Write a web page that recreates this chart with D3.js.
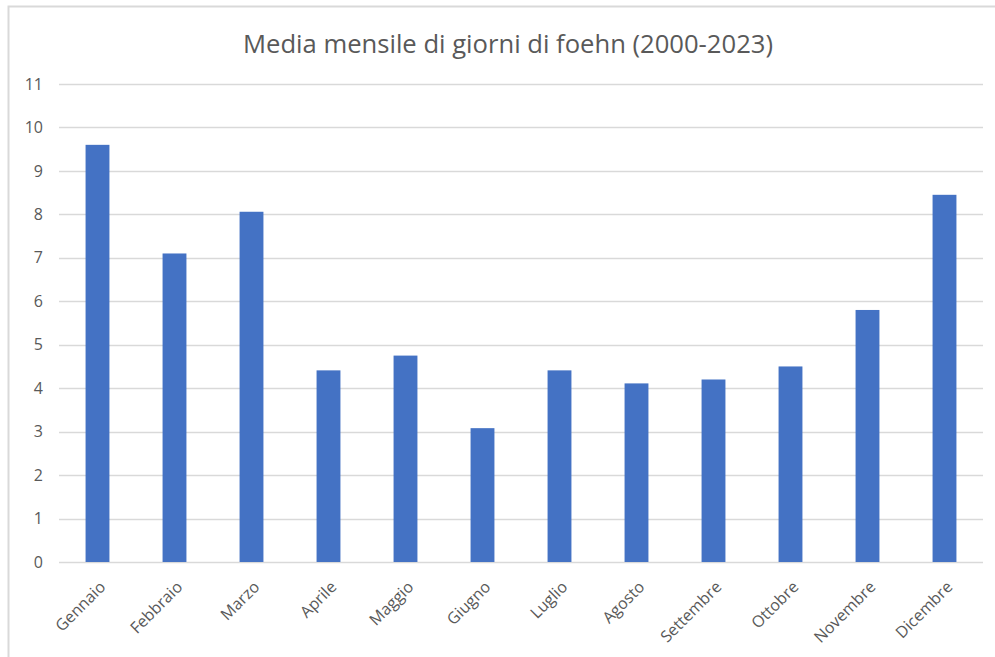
<!DOCTYPE html>
<html>
<head>
<meta charset="utf-8">
<script src="https://cdn.jsdelivr.net/npm/d3@7"></script>
<style>
  html, body { margin: 0; padding: 0; background: #ffffff; }
  svg { display: block; }
</style>
</head>
<body>
<svg id="chart" width="995" height="657"></svg>
<script>
// Monthly average of foehn days, 2000-2023
const months = ["Gennaio", "Febbraio", "Marzo", "Aprile", "Maggio", "Giugno",
                "Luglio", "Agosto", "Settembre", "Ottobre", "Novembre", "Dicembre"];
const foehnDays = [9.6, 7.1, 8.06, 4.41, 4.75, 3.08, 4.41, 4.11, 4.2, 4.5, 5.8, 8.45];
const yTicks = [0, 1, 2, 3, 4, 5, 6, 7, 8, 9, 10, 11];
const chartTitle = "Media mensile di giorni di foehn (2000-2023)";

const svg = d3.select("#chart");
const textColor = "#595959";
const gridColor = "#d9d9d9";
const labelFont = "'Open Sans', 'Noto Sans', sans-serif";

// outer frame of the chart area
svg.append("rect")
  .attr("x", 8.5).attr("y", 6.5)
  .attr("width", 1100).attr("height", 800)
  .attr("fill", "none")
  .attr("stroke", gridColor)
  .attr("stroke-width", 2);

const x = d3.scaleBand()
  .domain(months)
  .range([59, 983])
  .paddingInner(0.69)
  .paddingOuter(0.345);

const y = d3.scaleLinear()
  .domain([0, 11])
  .range([562, 84]);

// horizontal gridlines
svg.append("g")
  .selectAll("line")
  .data(yTicks)
  .join("line")
  .attr("x1", 59).attr("x2", 983)
  .attr("y1", d => Math.round(y(d)) + 0.5)
  .attr("y2", d => Math.round(y(d)) + 0.5)
  .attr("stroke", gridColor)
  .attr("stroke-width", 1.5);

// y axis labels
const yAxis = d3.axisLeft(y).tickValues(yTicks).tickSize(0).tickPadding(0);
const gy = svg.append("g").attr("transform", "translate(43,0)").call(yAxis);
gy.select(".domain").remove();
gy.selectAll("text")
  .attr("fill", textColor)
  .style("font-family", labelFont)
  .style("font-size", "16px");

// bars
svg.append("g")
  .selectAll("rect")
  .data(foehnDays)
  .join("rect")
  .attr("x", (d, i) => x(months[i]))
  .attr("y", d => y(d))
  .attr("width", x.bandwidth())
  .attr("height", d => y(0) - y(d))
  .attr("fill", "#4472C4");

// month labels, rotated
const xAxis = d3.axisBottom(x).tickSize(0).tickPadding(0);
const gx = svg.append("g").attr("transform", "translate(0,562)").call(xAxis);
gx.select(".domain").remove();
gx.selectAll("text")
  .attr("fill", textColor)
  .style("font-family", labelFont)
  .style("font-size", "16px")
  .attr("text-anchor", "end")
  .attr("dy", null)
  .attr("y", 0)
  .attr("transform", "translate(9,26) rotate(-45)");

// title
svg.append("text")
  .attr("x", 508)
  .attr("y", 53)
  .attr("text-anchor", "middle")
  .attr("fill", textColor)
  .attr("textLength", 530)
  .attr("lengthAdjust", "spacingAndGlyphs")
  .style("font-family", labelFont)
  .style("font-size", "26px")
  .text(chartTitle);
</script>
</body>
</html>
